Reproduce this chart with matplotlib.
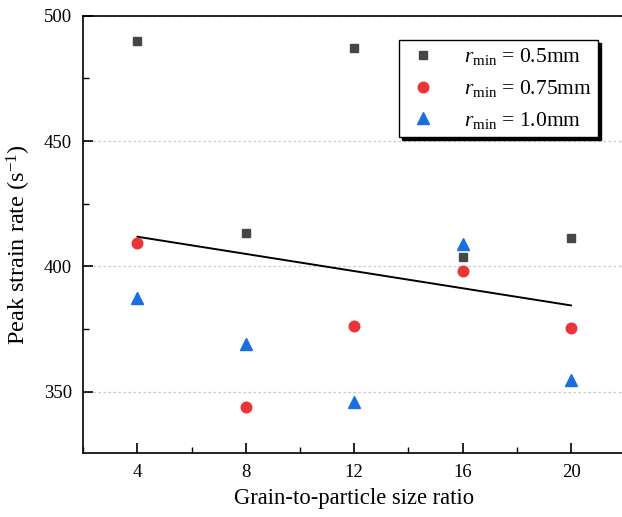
import matplotlib
matplotlib.use("Agg")
import matplotlib.pyplot as plt
from matplotlib.ticker import MultipleLocator

plt.rcParams['font.family'] = ['Liberation Serif', 'DejaVu Serif']
plt.rcParams['mathtext.fontset'] = 'custom'
plt.rcParams['mathtext.rm'] = 'Liberation Serif'
plt.rcParams['mathtext.it'] = 'Liberation Serif:italic'

# Data
ratios = [4, 8, 12, 16, 20]
r05 = [490, 413.2, 487, 403.6, 411.4]
r075 = [409.2, 343.8, 376.0, 398.2, 375.4]
r10 = [387.4, 369.0, 345.8, 408.8, 354.8]
fit_x = [4, 20]
fit_y = [411.8, 384.4]
labels = [r'$r_{\mathrm{min}}$ = 0.5mm', r'$r_{\mathrm{min}}$ = 0.75mm', r'$r_{\mathrm{min}}$ = 1.0mm']

W, H = 622, 517
fig = plt.figure(figsize=(W / 100, H / 100), dpi=100)
ax = fig.add_axes([83.3 / W, 1 - 453.3 / H, (625.2 - 83.3) / W, (453.3 - 15.7) / H])

ax.grid(axis='y', color='#c8c8c8', linestyle=(0, (2, 2)), linewidth=0.9)
ax.set_axisbelow(True)

ax.plot(fit_x, fit_y, color='black', linewidth=1.4, zorder=2)
ax.plot(ratios, r05, linestyle='none', marker='s', markersize=6.4, color='#464646', label=labels[0], zorder=3)
ax.plot(ratios, r075, linestyle='none', marker='o', markersize=7.6, color='#ee3338', label=labels[1], zorder=3)
ax.plot(ratios, r10, linestyle='none', marker='^', markersize=8.2, color='#1a6fe0', label=labels[2], zorder=3)

ax.set_xlim(2, 22)
ax.set_ylim(325.4, 500)
ax.set_xticks([4, 8, 12, 16, 20])
ax.xaxis.set_minor_locator(MultipleLocator(2))
ax.set_yticks([350, 400, 450, 500])
ax.yaxis.set_minor_locator(MultipleLocator(25))

ax.tick_params(which='major', direction='in', length=7, width=1.2, labelsize=13.5, pad=8)
ax.tick_params(which='minor', direction='in', length=4, width=1.0)
ax.tick_params(top=False, right=False, which='both')
for s in ax.spines.values():
    s.set_linewidth(1.2)

ax.set_xlabel('Grain-to-particle size ratio', fontsize=16.3, labelpad=5)
ax.set_ylabel('Peak strain rate (s$^{\\mathrm{-1}}$)', fontsize=17.5)
ax.yaxis.set_label_coords(-0.092, 0.478)

leg = ax.legend(loc='upper left', bbox_to_anchor=(399 / W, 1 - 40 / H), bbox_transform=fig.transFigure,
                borderaxespad=0, fancybox=False, shadow={'color': 'black', 'alpha': 1},
                edgecolor='black', framealpha=1, fontsize=15.5, handletextpad=1.1,
                handlelength=1.6, labelspacing=0.5, borderpad=0.3)
leg.get_frame().set_linewidth(1.0)

fig.savefig('out.png', dpi=100)
